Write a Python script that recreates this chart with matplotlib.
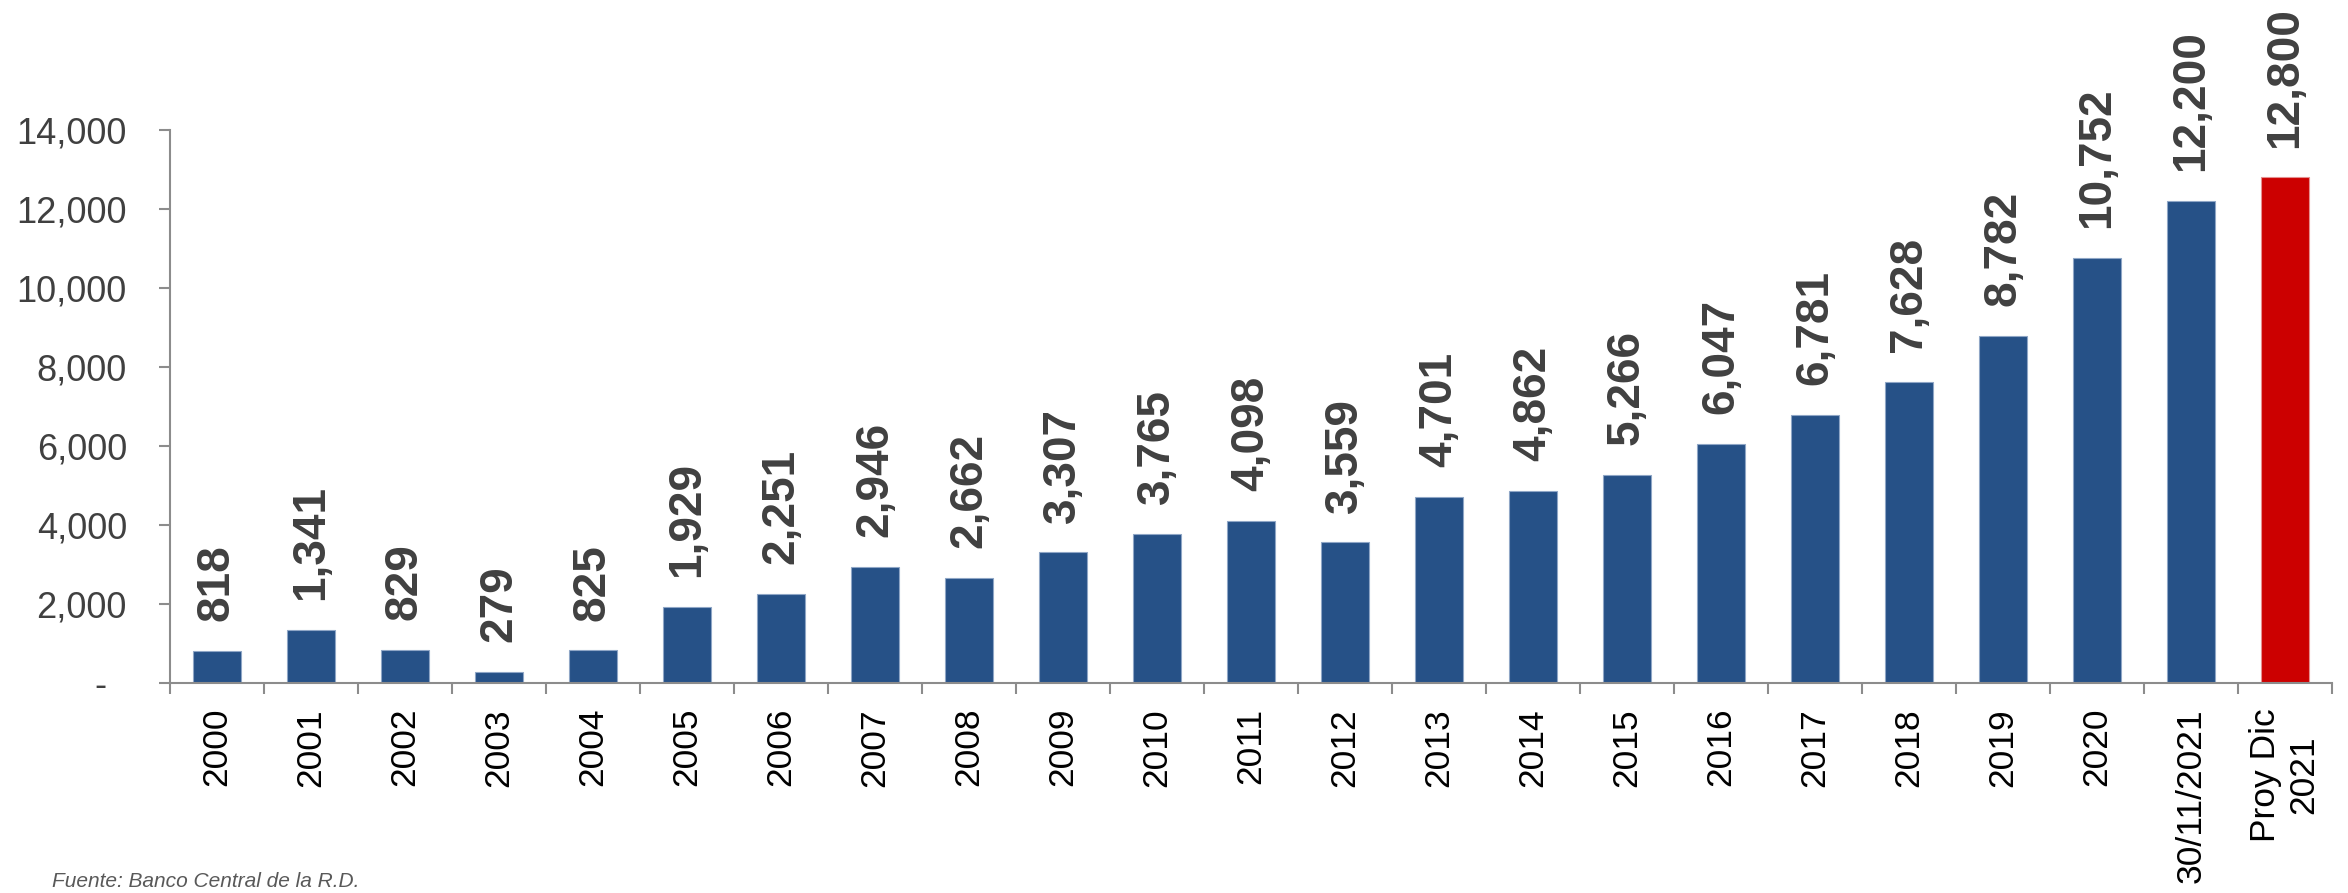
import matplotlib
matplotlib.use("Agg")
import matplotlib.pyplot as plt
from matplotlib.ticker import FixedLocator, FuncFormatter

plt.rcParams['font.family'] = ['Liberation Sans', 'DejaVu Sans']

# ---- data ----
categories = ["2000", "2001", "2002", "2003", "2004", "2005", "2006", "2007",
              "2008", "2009", "2010", "2011", "2012", "2013", "2014", "2015",
              "2016", "2017", "2018", "2019", "2020", "30/11/2021", "Proy Dic\n2021"]
values = [818, 1341, 829, 279, 825, 1929, 2251, 2946, 2662, 3307, 3765, 4098,
          3559, 4701, 4862, 5266, 6047, 6781, 7628, 8782, 10752, 12200, 12800]
is_projection = [False] * 22 + [True]
y_ticks = [0, 2000, 4000, 6000, 8000, 10000, 12000, 14000]
source_note = "Fuente: Banco Central de la R.D."

# ---- styles ----
BLUE = "#265187"
BLUE_EDGE = "#8fa6c6"
RED = "#cc0000"
RED_EDGE = "#e59090"
AXIS_GRAY = "#8c8c8c"
LABEL_GRAY = "#404040"

W, H = 2348, 893
fig = plt.figure(figsize=(W / 100, H / 100), dpi=100)
ax = fig.add_axes([170 / W, (H - 683) / H, (2332 - 170) / W, (683 - 130) / H])

x = list(range(len(categories)))
colors = [RED if p else BLUE for p in is_projection]
edges = [RED_EDGE if p else BLUE_EDGE for p in is_projection]
ax.bar(x, values, width=0.52, color=colors, edgecolor=edges, linewidth=0.8, zorder=2)

for xi, v in zip(x, values):
    ax.annotate(f"{v:,}", (xi, v), xytext=(0, 21.5), textcoords="offset points",
                rotation=90, ha="center", va="bottom", fontsize=33,
                fontweight="bold", color=LABEL_GRAY, annotation_clip=False)

ax.set_xlim(-0.5, len(categories) - 0.5)
ax.set_ylim(0, 14000)

# y axis
ax.yaxis.set_major_locator(FixedLocator(y_ticks))
ax.yaxis.set_major_formatter(FuncFormatter(lambda v, p: "-  " if v == 0 else f"{int(v):,}"))
ax.tick_params(axis="y", direction="out", length=8, width=1.5, color=AXIS_GRAY,
               labelsize=26, labelcolor=LABEL_GRAY, pad=23)

# x axis: boundary ticks (major, unlabeled) and centered labels (minor)
ax.set_xticks([i - 0.5 for i in range(len(categories) + 1)])
ax.set_xticklabels([])
ax.set_xticks(x, minor=True)
ax.set_xticklabels(categories, minor=True, rotation=90, fontsize=25.5,
                   color="black", ha="center", va="top", multialignment="center")
ax.tick_params(axis="x", which="major", direction="out", length=8, width=1.5, color=AXIS_GRAY)
ax.tick_params(axis="x", which="minor", length=0, pad=18)

for s in ("top", "right"):
    ax.spines[s].set_visible(False)
for s in ("left", "bottom"):
    ax.spines[s].set_color(AXIS_GRAY)
    ax.spines[s].set_linewidth(1.5)

fig.text(52 / W, 2 / H, source_note, fontsize=15, style="italic",
         color="#595959", ha="left", va="bottom")

fig.savefig("out.png", dpi=100)
